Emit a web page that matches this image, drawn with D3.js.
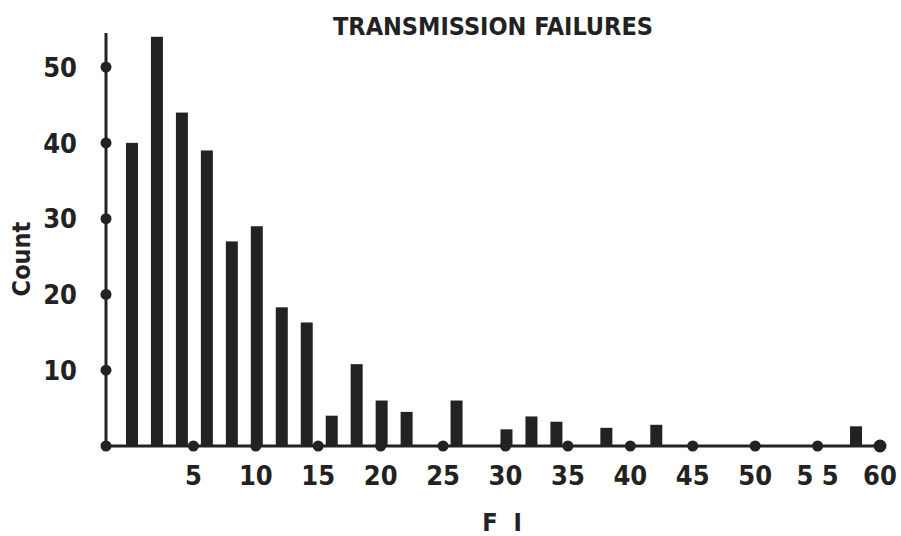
<!DOCTYPE html>
<html>
<head>
<meta charset="utf-8">
<script src="https://cdn.jsdelivr.net/npm/d3@7"></script>
<style>
  html, body { margin: 0; padding: 0; background: #fff; }
  svg { display: block; }
  .lbl { font-family: "Liberation Sans Narrow", "DejaVu Sans Condensed", "Arial Narrow", sans-serif; font-weight: bold; fill: #222; }
</style>
</head>
<body>
<svg id="chart" width="901" height="536"></svg>
<script>
// Failure index bins (even values) and the number of transmissions in each
const fiBins   = [0, 2, 4, 6, 8, 10, 12, 14, 16, 18, 20, 22, 26, 30, 32, 34, 38, 42, 58];
const counts   = [40, 54, 44, 39, 27, 29, 18.3, 16.3, 4, 10.8, 6, 4.5, 6, 2.2, 3.9, 3.2, 2.4, 2.8, 2.6];
const xTicks   = [5, 10, 15, 20, 25, 30, 35, 40, 45, 50, 55, 60];
const xTickText = ["5", "10", "15", "20", "25", "30", "35", "40", "45", "50", "5 5", "60"];
const yTicks   = [10, 20, 30, 40, 50];

const ink = "#222";
const svg = d3.select("#chart");

const x = d3.scaleLinear().domain([-2, 60]).range([106, 880]);
const y = d3.scaleLinear().domain([0, 54.5]).range([446, 33]);
const barW = x(0.96) - x(0);

// bars
svg.append("g").selectAll("rect")
  .data(fiBins.map((b, i) => ({ b, c: counts[i] })))
  .join("rect")
  .attr("x", d => x(d.b) - barW / 2 + 1)
  .attr("y", d => y(d.c))
  .attr("width", barW)
  .attr("height", d => y(0) - y(d.c))
  .attr("fill", ink);

// axis lines
svg.append("line")
  .attr("x1", x(-2)).attr("x2", x(-2))
  .attr("y1", y(0)).attr("y2", y(54.5))
  .attr("stroke", ink).attr("stroke-width", 3);
svg.append("line")
  .attr("x1", x(-2)).attr("x2", x(60))
  .attr("y1", y(0)).attr("y2", y(0))
  .attr("stroke", ink).attr("stroke-width", 3);

// tick dots
svg.append("circle").attr("cx", x(-2)).attr("cy", y(0)).attr("r", 5.5).attr("fill", ink);
svg.append("g").selectAll("circle").data(yTicks).join("circle")
  .attr("cx", x(-2)).attr("cy", d => y(d)).attr("r", 5.5).attr("fill", ink);
svg.append("g").selectAll("circle").data(xTicks).join("circle")
  .attr("cx", d => x(d)).attr("cy", y(0)).attr("r", d => d === 60 ? 6.5 : 5.5).attr("fill", ink);

// tick labels
svg.append("g").selectAll("text").data(yTicks).join("text")
  .attr("class", "lbl")
  .attr("x", 77).attr("y", d => y(d))
  .attr("dy", "0.36em")
  .attr("text-anchor", "end")
  .attr("font-size", 27)
  .text(d => d);
svg.append("g").selectAll("text").data(xTicks).join("text")
  .attr("class", "lbl")
  .attr("x", d => x(d)).attr("y", 485)
  .attr("text-anchor", "middle")
  .attr("font-size", 27)
  .text((d, i) => xTickText[i]);

// titles
svg.append("text").attr("class", "lbl")
  .attr("x", 493).attr("y", 35)
  .attr("text-anchor", "middle")
  .attr("font-size", 25)
  .attr("textLength", 320).attr("lengthAdjust", "spacingAndGlyphs")
  .text("TRANSMISSION FAILURES");

svg.append("text").attr("class", "lbl")
  .attr("transform", "translate(30,259) rotate(-90)")
  .attr("text-anchor", "middle")
  .attr("font-size", 25)
  .text("Count");

svg.append("text").attr("class", "lbl")
  .attr("x", 504).attr("y", 531)
  .attr("text-anchor", "middle")
  .attr("font-size", 25)
  .attr("letter-spacing", 4)
  .text("F I");
</script>
</body>
</html>
